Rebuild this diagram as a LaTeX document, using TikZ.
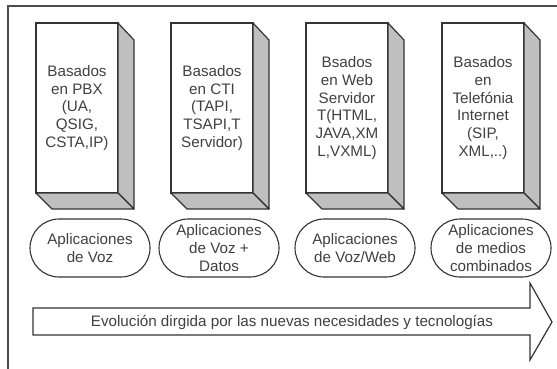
\documentclass[tikz,border=0pt]{standalone}
\usepackage{fontspec}
\setmainfont{Liberation Sans}
\usetikzlibrary{shapes.misc}

\begin{document}
\begin{tikzpicture}[x=1pt,y=-1pt]
	\tikzset{texto/.style={font=\fontsize{15.2}{17.8}\selectfont, text=black!75, align=center}}
	\tikzset{caja/.style={texto, draw=black!80, line width=1.2pt, minimum width=82pt, minimum height=170pt, inner sep=0pt, outer sep=0pt}}
	\tikzset{lado/.style={draw=black!80, fill=black!25, line width=1.2pt, line join=round}}
	\tikzset{app/.style={texto, draw=black!80, line width=1.1pt, rounded rectangle, minimum width=120pt, minimum height=58pt, inner sep=0pt}}
	\useasboundingbox (0,0) rectangle (557,369);

	\draw[black!70, line width=1.5pt] (8,369) -- (8,6) -- (557,6);

	\node[caja] (pbx) at (77,108) {Basados\\en PBX\\(UA,\\QSIG,\\CSTA,IP)};
	\node[caja] (cti) at (212,108) {Basados\\en CTI\\(TAPI,\\TSAPI,T\\Servidor)};
	\node[caja] (web) at (347,108) {Bsados\\en Web\\Servidor\\T(HTML,\\JAVA,XM\\L,VXML)};
	\node[caja] (inet) at (483,108) {Basados\\en\\Telefónia\\Internet\\(SIP,\\XML,..)};

	\foreach \n in {pbx,cti,web,inet}{
		\draw[lado] (\n.north east) -- ++(16,17) -- ([shift={(16,16)}]\n.south east) -- (\n.south east) -- cycle;
		\draw[lado] (\n.south west) -- (\n.south east) -- ++(16,16) -- ([shift={(16,16)}]\n.south west) -- cycle;
	}

	\node[app] (voz) at (90,248) {Aplicaciones\\de Voz};
	\node[app] (datos) at (219,248) {Aplicaciones\\de Voz +\\Datos};
	\node[app] (vozweb) at (355,248) {Aplicaciones\\de Voz/Web};
	\node[app] (medios) at (491,248) {Aplicaciones\\de medios\\combinados};

	% flecha
	\draw[black!80, line width=1.2pt, line join=miter] (33,308) -- (530,308) -- (530,283) -- (552,322) -- (530,360) -- (530,335) -- (33,335) -- cycle;
	\node[texto] (evol) at (292,322) {Evolución dirgida por las nuevas necesidades y tecnologías};
\end{tikzpicture}
\end{document}
